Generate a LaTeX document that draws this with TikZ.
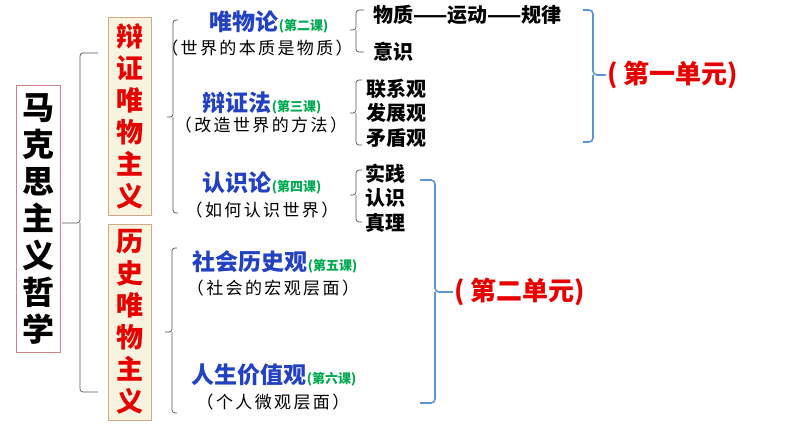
\documentclass[tikz,border=0pt]{standalone}
\usepackage{fontspec}
\usepackage{tikz}
\usetikzlibrary{positioning}
\newfontfamily\cjk{Noto Sans CJK SC}
\newfontfamily\cjksp{Noto Sans CJK SC}[LetterSpace=14]
\definecolor{titred}{RGB}{232,0,0}
\definecolor{lessblue}{RGB}{35,65,195}
\definecolor{lessgreen}{RGB}{0,170,80}
\definecolor{unitblue}{RGB}{91,150,210}
\definecolor{cream}{RGB}{248,243,222}
\definecolor{boxedge}{RGB}{205,170,135}
\definecolor{pinkedge}{RGB}{205,130,140}
\definecolor{brgrey}{RGB}{85,85,85}
\tikzset{
  mainbox/.style={
    draw=pinkedge, fill=white, align=center, inner sep=0pt,
    minimum width=44pt, minimum height=267pt,
    font=\cjk\bfseries\fontsize{32}{37}\selectfont
  },
  partbox/.style={
    draw=boxedge, fill=cream, align=center, inner sep=0pt, text=titred,
    minimum width=43pt,
    font=\cjk\bfseries\fontsize{27}{32}\selectfont
  },
  head/.style={inner sep=0pt, text=lessblue, font=\cjk\bfseries\fontsize{23}{26}\selectfont},
  sub/.style={inner sep=0pt, font=\cjksp\fontsize{17}{20}\selectfont},
  item/.style={inner sep=0pt, anchor=west, align=left, font=\cjk\bfseries\fontsize{20}{24.5}\selectfont},
  unit/.style={inner sep=0pt, anchor=west, text=titred, font=\cjk\bfseries\fontsize{26}{30}\selectfont},
  brace/.style={draw=brgrey, line width=0.7pt, rounded corners=3pt},
  ubrace/.style={draw=unitblue, line width=1.6pt, rounded corners=4pt}
}
% brace: style, tip name, x of stem, top, middle, bottom, arm, tip length
\newcommand{\brc}[8]{%
  \draw[#1] ({#3+(#7)},#4) -| (#3,#5) -- ({#3-(#8)},#5);
  \draw[#1] ({#3+(#7)},#6) -| (#3,#5);
  \coordinate (#2) at ({#3-(#8)},#5);
}
\newcommand{\lesson}[1]{{\color{lessgreen}\fontsize{13}{14}\selectfont(#1)}}

\begin{document}
\begin{tikzpicture}[x=1pt, y=-1pt]
\useasboundingbox (0,0) rectangle (794,447);

% left column
\node[mainbox] (mks) at (38,218.5) {马\\克\\思\\主\\义\\哲\\学};
\node[partbox, minimum height=198pt] (bz) at (129.5,116) {辩\\证\\唯\\物\\主\\义};
\node[partbox, minimum height=196pt] (ls) at (129.5,322) {历\\史\\唯\\物\\主\\义};

% lessons
\node[head] (wwl) at (269,22) {唯物论\lesson{第二课}};
\node[sub] (wwls) at (257,48) {（世界的本质是物质）};
\node[head] (bzf) at (262,103) {辩证法\lesson{第三课}};
\node[sub] (bzfs) at (261,125) {（改造世界的方法）};
\node[head] (rsl) at (262,183) {认识论\lesson{第四课}};
\node[sub] (rsls) at (262,210) {（如何认识世界）};
\node[head] (shl) at (275,262) {社会历史观\lesson{第五课}};
\node[sub] (shls) at (273,288) {（社会的宏观层面）};
\node[head] (rsj) at (274,375) {人生价值观\lesson{第六课}};
\node[sub] (rsjs) at (273,402) {（个人微观层面）};

% key points
\node[item] (wz) at (373,15) {物质——运动——规律};
\node[item] (ys) at (373,52) {意识};
\node[item] (bzfk) at (366,113) {联系观\\发展观\\矛盾观};
\node[item] (rslk) at (365,198) {实践\\认识\\真理};

% braces
\brc{brace}{t0}{80}{53}{223}{392}{18}{18}
\brc{brace}{t1}{173}{20}{117}{213}{5}{6}
\brc{brace}{t2}{172}{248}{332}{413}{5}{7}
\brc{brace}{ta}{356}{10}{30}{52}{8}{6}
\brc{brace}{tb}{356}{80}{113}{145}{6}{6}
\brc{brace}{tc}{356}{170}{195}{222}{6}{6}
\brc{ubrace}{u1}{593}{10}{75}{142}{-10}{-13}
\brc{ubrace}{u2}{435}{180}{292}{403}{-15}{-18}

\node[unit, right=1pt of u1] (dy1) {( 第一单元)};
\node[unit, right=1pt of u2] (dy2) {( 第二单元)};
\end{tikzpicture}
\end{document}
